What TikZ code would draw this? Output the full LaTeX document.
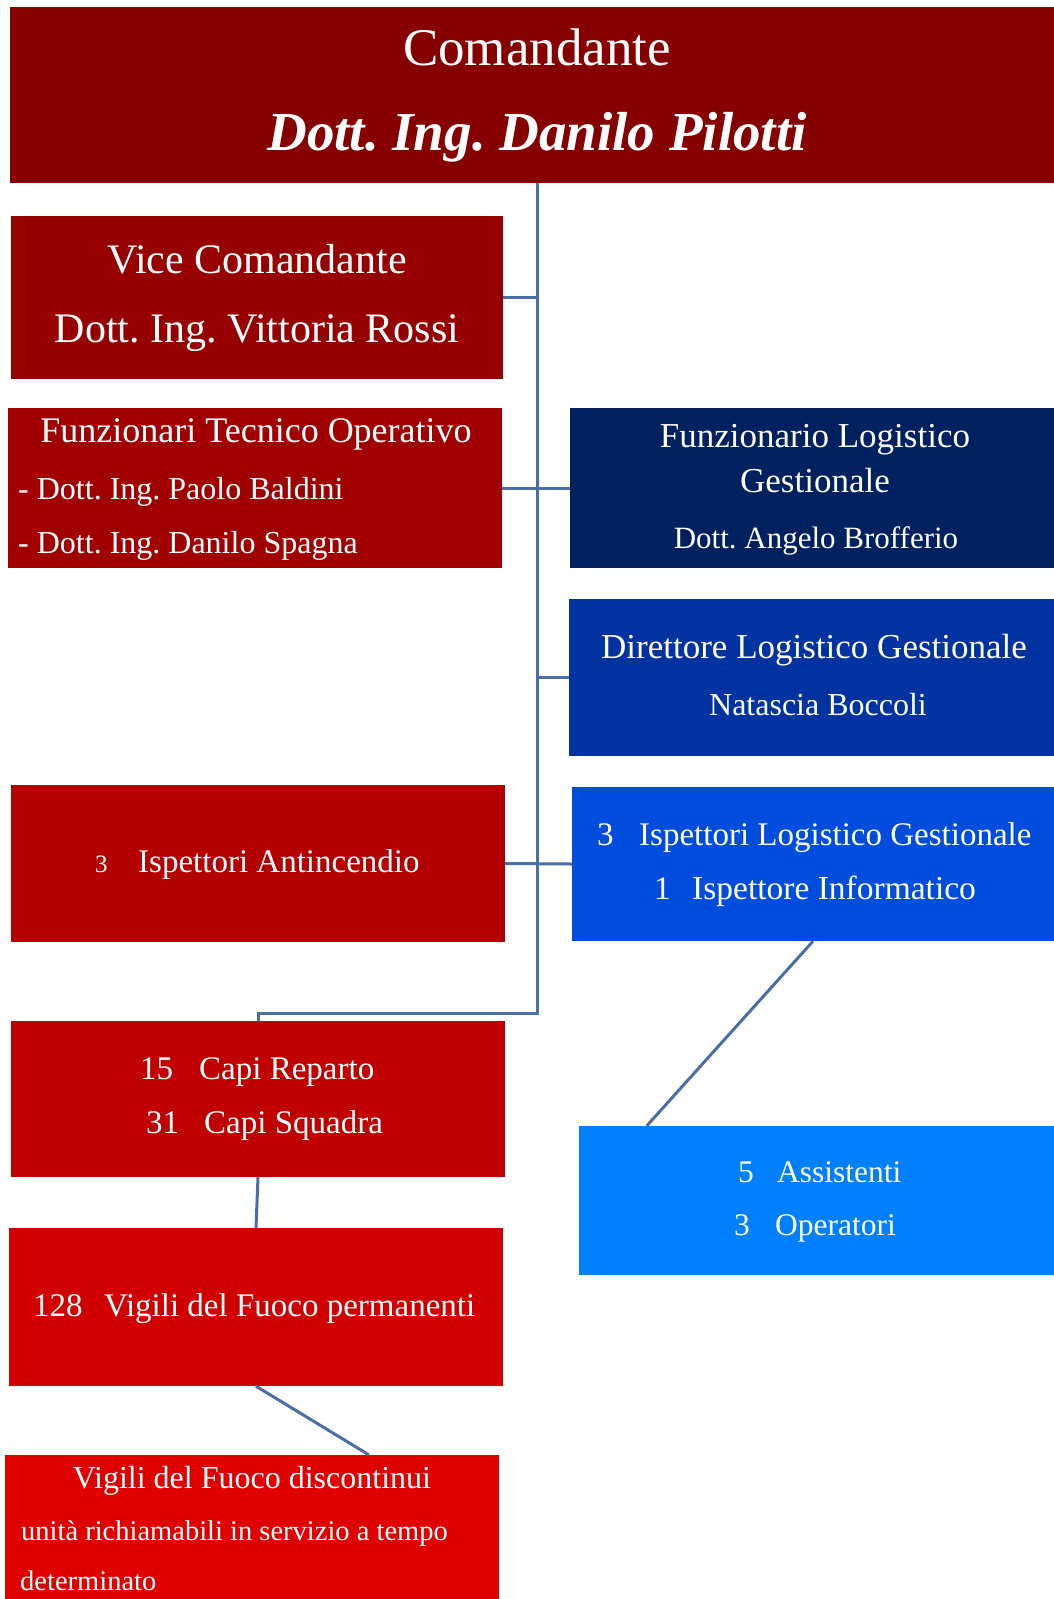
\documentclass[tikz,border=0pt]{standalone}
\usepackage{fontspec}
\setmainfont{Liberation Serif}
\usetikzlibrary{fit,calc}
\definecolor{cA}{HTML}{860000}
\definecolor{cB}{HTML}{960000}
\definecolor{cC}{HTML}{A10000}
\definecolor{cD}{HTML}{B30000}
\definecolor{cE}{HTML}{C00000}
\definecolor{cF}{HTML}{D00000}
\definecolor{cG}{HTML}{DF0000}
\definecolor{bA}{HTML}{00215F}
\definecolor{bB}{HTML}{0033A0}
\definecolor{bC}{HTML}{004CDC}
\definecolor{bD}{HTML}{007FFF}
\definecolor{lnc}{HTML}{4A6FA5}
\newcommand\fsz[1]{\fontsize{#1}{#1}\selectfont}
\frenchspacing
\begin{document}
\begin{tikzpicture}[x=1pt,y=-1pt,
  box/.style={rectangle, inner sep=0pt, draw=none},
  tc/.style={text=white, inner sep=0pt, anchor=base},
  tw/.style={text=white, inner sep=0pt, anchor=base west},
  conn/.style={draw=lnc, line width=3pt}]
\useasboundingbox (0,0) rectangle (1054,1599);
% boxes
\node[box, fill=cA, fit={(10,7) (1054,183)}] (cmd) {};
\node[box, fill=cB, fit={(11,216) (503,379)}] (vice) {};
\node[box, fill=cC, fit={(8,408) (502,568)}] (fto) {};
\node[box, fill=bA, fit={(570,408) (1054,568)}] (flg) {};
\node[box, fill=bB, fit={(569,599) (1054,756)}] (dir) {};
\node[box, fill=cD, fit={(11,785) (505,942)}] (ant) {};
\node[box, fill=bC, fit={(572,787) (1054,941)}] (ilg) {};
\node[box, fill=cE, fit={(11,1021) (505,1177)}] (capi) {};
\node[box, fill=bD, fit={(579,1126) (1054,1275)}] (ass) {};
\node[box, fill=cF, fit={(9,1228) (503,1386)}] (vigp) {};
\node[box, fill=cG, fit={(5,1455) (499,1599)}] (disc) {};
% texts
\node[tc] (t1) at (537,65) {\fsz{53}Comandante};
\node[tc] (t2) at (537,150) {\fsz{55}\bfseries\itshape Dott. Ing. Danilo Pilotti};
\node[tc] (t3) at (257,273) {\fsz{42}Vice Comandante};
\node[tc] (t4) at (257,342) {\fsz{42}Dott. Ing. Vittoria Rossi};
\node[tc] (t5) at (256,442) {\fsz{36}Funzionari Tecnico Operativo};
\node[tw] (t6) at (18,499) {\fsz{32}- Dott. Ing. Paolo Baldini};
\node[tw] (t7) at (18,553) {\fsz{32}- Dott. Ing. Danilo Spagna};
\node[tc] (t8) at (815,447) {\fsz{35}Funzionario Logistico};
\node[tc] (t9) at (815,492) {\fsz{35}Gestionale};
\node[tc] (t10) at (816,548) {\fsz{31}Dott. Angelo Brofferio};
\node[tc] (t11) at (814,658) {\fsz{35}Direttore Logistico Gestionale};
\node[tc] (t12) at (818,715) {\fsz{32}Natascia Boccoli};
\node[tw] (t13) at (95,872) {\fsz{25}3};
\node[tw] (t14) at (138,872) {\fsz{33}Ispettori Antincendio};
\node[tw] (t15) at (597,845) {\fsz{33}3};
\node[tw] (t16) at (639,845) {\fsz{33}Ispettori Logistico Gestionale};
\node[tw] (t17) at (654,899) {\fsz{33}1};
\node[tw] (t18) at (692,899) {\fsz{33.5}Ispettore Informatico};
\node[tw] (t19) at (140,1079) {\fsz{33}15};
\node[tw] (t20) at (199,1079) {\fsz{33}Capi Reparto};
\node[tw] (t21) at (146,1133) {\fsz{33}31};
\node[tw] (t22) at (204,1133) {\fsz{33}Capi Squadra};
\node[tw] (t23) at (738,1182) {\fsz{31.5}5};
\node[tw] (t24) at (777,1182) {\fsz{31.5}Assistenti};
\node[tw] (t25) at (734,1235) {\fsz{31.5}3};
\node[tw] (t26) at (775,1235) {\fsz{31.5}Operatori};
\node[tw] (t27) at (33,1316) {\fsz{33}128};
\node[tw] (t28) at (104,1316) {\fsz{33}Vigili del Fuoco permanenti};
\node[tc] (t29) at (252,1488) {\fsz{32}Vigili del Fuoco discontinui};
\node[tw] (t30) at (21,1540) {\fsz{28.5}unità richiamabili in servizio a tempo};
\node[tw] (t31) at (20,1590) {\fsz{28.5}determinato};
% connectors
\coordinate (tk) at (537,1013);
\draw[conn] (cmd.south -| tk) -- (tk) -- (tk -| capi.north) -- (capi.north);
\draw[conn] (vice.east) -- (vice.east -| tk);
\draw[conn] (fto.east) -- (flg.west);
\draw[conn] (dir.west) -- (dir.west -| tk);
\draw[conn] (ant.east) -- (ilg.west);
\draw[conn] (ilg.south) -- ($(ass.north west)+(68,0)$);
\draw[conn] (capi.south) -- (vigp.north);
\draw[conn] (vigp.south) -- ($(disc.north west)+(364,0)$);
\end{tikzpicture}
\end{document}
